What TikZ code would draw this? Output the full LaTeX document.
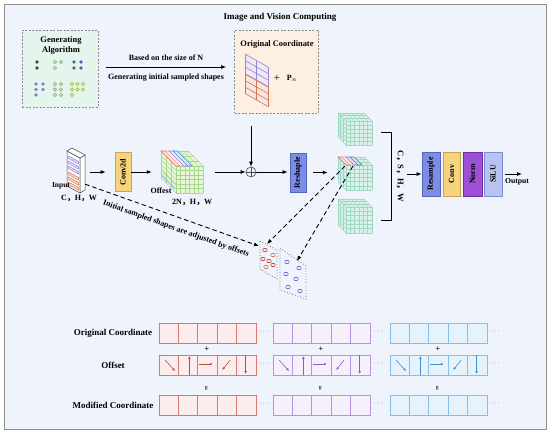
\documentclass[tikz,border=0pt]{standalone}
\usepackage{fontspec}
\setmainfont{Liberation Serif}
\newfontfamily\cjk{Noto Sans CJK SC}
\usetikzlibrary{arrows.meta,calc}
\definecolor{bg}{HTML}{EEF3FC}
\definecolor{framec}{HTML}{8E8E8E}
\definecolor{genf}{HTML}{E5F4EC}
\definecolor{origf}{HTML}{FDF0E2}
\definecolor{dboxc}{HTML}{8A8A8A}
\definecolor{convf}{HTML}{F6D47E}
\definecolor{convd}{HTML}{C9A24B}
\definecolor{reshf}{HTML}{7D8DE4}
\definecolor{reshd}{HTML}{5564C0}
\definecolor{normf}{HTML}{9B50D6}
\definecolor{normd}{HTML}{6A2EA2}
\definecolor{siluf}{HTML}{B8C3F4}
\definecolor{silud}{HTML}{7C8BD4}
\definecolor{offf}{HTML}{E9F6DC}
\definecolor{offl}{HTML}{A7D98C}
\definecolor{tealf}{HTML}{DBF2EA}
\definecolor{teall}{HTML}{9ED8C4}
\definecolor{redc}{HTML}{D87A70}
\definecolor{redf}{HTML}{FBEDEE}
\definecolor{reda}{HTML}{C8483E}
\definecolor{purc}{HTML}{B891E3}
\definecolor{purf}{HTML}{F6F0FC}
\definecolor{pura}{HTML}{8B5BD6}
\definecolor{bluc}{HTML}{86BEEA}
\definecolor{bluf}{HTML}{E6F3FC}
\definecolor{blua}{HTML}{3F8FD8}
\definecolor{gpur}{HTML}{9A85D0}
\definecolor{gora}{HTML}{D0754E}
\definecolor{dbrown}{HTML}{5A4535}
\definecolor{dgreen}{HTML}{8FAF7A}
\definecolor{dpurple}{HTML}{5E5EB5}
\definecolor{dblue}{HTML}{7A86CC}
\definecolor{dyel}{HTML}{A8C040}
\newcommand\gcube[7]{%
  \fill[#6] (#1,#2) -- ({#1-#5},{#2-#5}) -- ({#1+#3-#5},{#2-#5}) -- ({#1+#3},#2) -- ({#1+#3},{#2+#4}) -- (#1,{#2+#4}) -- ({#1-#5},{#2+#4-#5}) -- ({#1-#5},{#2-#5}) -- cycle;
  \foreach \k in {0,...,6}{
    \draw[#7,line width=0.45] ({#1+\k*#3/6},#2) -- ++(0,#4);
    \draw[#7,line width=0.45] (#1,{#2+\k*#4/6}) -- ++(#3,0);
    \draw[#7,line width=0.45] ({#1+\k*#3/6},#2) -- ++(-#5,-#5);
    \draw[#7,line width=0.45] (#1,{#2+\k*#4/6}) -- ++(-#5,-#5);
  }
  \foreach \m in {1,2,3}{
    \draw[#7,line width=0.45] ({#1-\m*#5/3},{#2-\m*#5/3}) -- ++(#3,0);
    \draw[#7,line width=0.45] ({#1-\m*#5/3},{#2-\m*#5/3}) -- ++(0,#4);
  }
}
\newcommand\pgrid[3]{% origin x,y, colour
  \fill[#3!18] (#1,#2) -- ({#1+23},{#2+13}) -- ({#1+23},{#2+32.5}) -- (#1,{#2+19.5}) -- cycle;
  \foreach \i in {0,1,2}{ \draw[#3,line width=0.6] ({#1+\i*11.5},{#2+\i*6.5}) -- ++(0,19.5); }
  \foreach \j in {0,1,2,3}{ \draw[#3,line width=0.6] (#1,{#2+\j*6.5}) -- ++(23,13); }
}
\begin{document}
\begin{tikzpicture}[x=1pt,y=-1pt,
  arr/.style={-{Latex[length=5pt,width=4pt]},line width=0.9pt,black},
  darr/.style={-{Latex[length=5pt,width=4pt]},line width=0.9pt,black,dash pattern=on 4.5pt off 3pt},
  sarr/.style={-{Latex[length=2.8pt,width=2.6pt]},line width=0.6pt},
  dbox/.style={draw=dboxc,line width=0.7pt,dash pattern=on 2pt off 1.5pt,inner sep=0},
  vbox/.style={draw,line width=0.7pt,inner sep=0},
  lab/.style={font=\fontsize{9}{11}\selectfont\bfseries},
  sml/.style={font=\fontsize{8}{9.6}\selectfont\bfseries},
  vtxt/.style={rotate=90,font=\fontsize{8}{9}\selectfont\bfseries}]
\useasboundingbox (0,0) rectangle (550,434);
\fill[white] (0,0) rectangle (550,434);
\draw[framec,fill=bg,line width=0.8pt] (4,4) rectangle (546,429);
\node[font=\fontsize{9}{11}\selectfont\bfseries] (title) at (280,17) {Image and Vision Computing};

% generating algorithm
\node[dbox,fill=genf,minimum width=76,minimum height=77] (gen) at (60,68.5) {};
\node[font=\fontsize{8.5}{10}\selectfont\bfseries,align=center] (gentxt) at (61,45) {Generating\\Algorithm};
\foreach \x/\y in {37/62,37/68}{\fill[dbrown] (\x,\y) circle (1.9);}
\foreach \x/\y in {74/62,81/62,74/68,81/68}{\fill[dpurple] (\x,\y) circle (1.9);}
\foreach \x/\y in {36/84,43/84,36/89.5,43/89.5,36/95}{\fill[dblue] (\x,\y) circle (1.9);}
\foreach \x/\y in {55/62,61/62,55/68,55/84,61/84,55/89.5,61/89.5,55/95,61/95}{\draw[dgreen,line width=0.7] (\x,\y) circle (1.6);}
\foreach \x/\y in {72/84,77.5/84,83/84,72/89.5,77.5/89.5,83/89.5,72/95}{\draw[dyel,line width=0.7] (\x,\y) circle (1.6);}

% arrow to original coordinate
\coordinate (a1) at (106,67);
\node[dbox,fill=origf,minimum width=84,minimum height=83] (orig) at (276.5,71.5) {};
\draw[arr,shorten >=8] (a1) -- (a1 -| orig.west);
\node[sml] (t1) at (166,58) {Based on the size of N};
\node[sml] (t2) at (166,78) {Generating initial sampled shapes};
\node[font=\fontsize{8.4}{10}\selectfont\bfseries] (origt) at (277,45) {Original Coordinate};
\pgrid{245}{54}{gpur}
\pgrid{245}{74}{gora}
\node[font=\fontsize{11}{12}\selectfont] (plus) at (277,78) {+};
\node[sml] (pn) at (292,78) {P$_n$};

% input slab
\node[inner sep=0,minimum width=18,minimum height=45] (inp) at (76,170.5) {};
\draw[black!75,fill=white,line width=0.5] (67,151) -- (80,158) -- (80,193) -- (67,186) -- cycle;
\draw[black!75,fill=white,line width=0.5] (80,158) -- (85,155) -- (85,190) -- (80,193) -- cycle;
\draw[black!75,fill=white,line width=0.5] (67,151) -- (72,148) -- (85,155) -- (80,158) -- cycle;
\foreach \k in {0,1,2}{\draw[gpur,fill=gpur!30,line width=0.5] (68.5,{156+\k*5}) -- (78.5,{161.5+\k*5}) -- (78.5,{164+\k*5}) -- (68.5,{158.5+\k*5}) -- cycle;}
\foreach \k in {3,4,5}{\draw[gora,fill=gora!25,line width=0.5] (68.5,{157+\k*5}) -- (78.5,{162.5+\k*5}) -- (78.5,{165+\k*5}) -- (68.5,{159.5+\k*5}) -- cycle;}
\node[font=\fontsize{7.5}{9}\selectfont\bfseries] (inpl) at (61,186) {Input};
\node[sml] (inpd) at (79,198) {C{\cjk ，}H{\cjk ，}W};

% conv2d
\node[vbox,draw=convd,fill=convf,minimum width=16,minimum height=39] (conv) at (123,172) {};
\node[vtxt] at (conv) {Conv2d};
\draw[arr,shorten <=5,shorten >=9] (inp.east |- conv.west) -- (conv.west);

% offset cube
\node[inner sep=0,minimum width=42,minimum height=42] (off) at (182,172) {};
\gcube{176}{166}{27}{27}{15}{offf}{offl}
\foreach \i/\c in {0/gora,1/pink!80!red,2/gpur,3/blua}{
  \draw[\c,fill=\c!15,line width=0.6] ({176+\i*4},166) -- ({180+\i*4},166) -- ({165+\i*4},151) -- ({161+\i*4},151) -- cycle;}
\draw[blua!70,line width=0.6] (162,176) -- (175,189);
\draw[pink!80!red,line width=0.6] (163,172) -- (176,185);
\node[sml] (offl1) at (161,191) {Offest};
\node[sml] (offl2) at (192,202) {2N{\cjk ，}H{\cjk ，}W};
\draw[arr,shorten >=9] (conv.east) -- (off.west);

% sum
\node[circle,draw=black!70,minimum size=10,inner sep=0,line width=0.6] (sum) at (251,172) {};
\draw[black!70,line width=0.6] (sum.north) -- (sum.south) (sum.west) -- (sum.east);
\draw[arr,shorten <=12] (off.east) -- (sum.west);
\draw[arr,shorten <=13] (orig.south -| sum) -- (sum.north);

% reshape
\node[vbox,draw=reshd,fill=reshf,minimum width=16,minimum height=39] (reshape) at (298,172.5) {};
\node[vtxt] at (reshape) {Reshaple};
\draw[arr,shorten >=2] (sum.east) -- (sum.east -| reshape.west);

% cubes
\node[inner sep=0,minimum width=34,minimum height=32] (cubeT) at (355,129) {};
\node[inner sep=0,minimum width=34,minimum height=33] (cubeM) at (355,173.5) {};
\node[inner sep=0,minimum width=34,minimum height=34] (cubeB) at (355,216) {};
\gcube{346}{121}{26}{24}{8}{tealf}{teall}
\gcube{346}{165}{26}{25}{8}{tealf}{teall}
\gcube{346}{207}{26}{26}{8}{tealf}{teall}
\foreach \i/\c in {0/gora,1/pink!80!red,2/gpur,3/blua}{
  \draw[\c,fill=\c!25,line width=0.6] ({346+\i*4},165) -- ({350+\i*4},165) -- ({342+\i*4},157) -- ({338+\i*4},157) -- cycle;}
\draw[arr,shorten <=7,shorten >=10] (reshape.east) -- (reshape.east -| cubeM.west);

% bracket
\draw[line width=0.9pt] (381,132) -| (391,220) -- (381,220);
\node[rotate=-90,font=\fontsize{8.5}{10}\selectfont\bfseries] (cshw) at (400,176) {C{\cjk ，}S{\cjk ，}H{\cjk ，}W};
\coordinate (brk) at (407,174);

% right blocks
\node[vbox,draw=reshd,fill=reshf,minimum width=18,minimum height=44] (resample) at (431,174) {};
\node[vbox,draw=convd,fill=convf,minimum width=17,minimum height=44] (conv2) at (451.5,174) {};
\node[vbox,draw=normd,fill=normf,minimum width=19,minimum height=44] (norm) at (472.5,174) {};
\node[vbox,draw=silud,fill=siluf,minimum width=18,minimum height=44] (silu) at (493,174) {};
\node[vtxt] at (resample) {Resample};
\node[vtxt] at (conv2) {Conv};
\node[vtxt] at (norm) {Norm};
\node[vtxt] at (silu) {SiLU};
\draw[arr] (brk) -- (resample.west);
\coordinate (outp) at (522,174);
\draw[arr,shorten <=3] (silu.east) -- (outp);
\node[font=\fontsize{7.7}{9}\selectfont\bfseries] (outl) at (517,182) {Output};

% panels
\draw[black!55,dotted,line width=0.8] (260,241) -- (277,250) -- (277,279) -- (260,269) -- cycle;
\draw[black!55,dotted,line width=0.8] (280,248) -- (306,266) -- (306,299) -- (280,290) -- cycle;
\foreach \x/\y/\c in {265/250/reda,273/255/gora,263/259/reda,269/261/reda,266/267/gora,273/265/reda}{
  \draw[\c,line width=0.6,rounded corners=0.8] (\x-2,\y-1.5) rectangle (\x+2,\y+1.5);}
\foreach \x/\y in {287/262,299/268,286/274,296/279,288/287,300/291}{
  \draw[pura,line width=0.6,rounded corners=0.8] (\x-2,\y-1.5) rectangle (\x+2,\y+1.5);}
\coordinate (p1) at (259,246);
\coordinate (p2) at (297,261);
\coordinate (s1) at (345,166);
\coordinate (s2) at (353,166);
\coordinate (p1b) at (267,244);
\draw[darr] ($(inp.south east)+(0,-9)$) -- (p1);
\draw[darr] (s1) -- (p1b);
\draw[darr] (s2) -- (p2);
\node[rotate=-19.7,font=\fontsize{8}{9}\selectfont\bfseries] (adj) at (176,229) {Initial sampled shapes are adjusted by offsets};

% bottom table
\node[lab] (lo) at (113,333) {Original Coordinate};
\node[lab] (lf) at (113,365) {Offset};
\node[lab] (lm) at (113,405) {Modified Coordinate};
\foreach \gx/\col/\fil/\ac in {159/redc/redf/reda,273/purc/purf/pura,390/bluc/bluf/blua}{
  \foreach \r in {323,355,395}{
    \foreach \i in {0,...,4}{
      \draw[draw=\col,fill=\fil,line width=0.7] ({\gx+\i*19.4},\r) rectangle ++(19.4,20);
    }
    \node[text=black!60,font=\fontsize{8}{9}\selectfont] at ({\gx+105},{\r+9}) {$\cdots$};
  }
  \node[font=\fontsize{8}{9}\selectfont\bfseries] at ({\gx+48},349) {+};
  \node[rotate=90,font=\fontsize{8}{9}\selectfont\bfseries] at ({\gx+48},388) {=};
  \draw[sarr,\ac] ({\gx+6},360) -- ({\gx+16},371);
  \draw[sarr,\ac] ({\gx+19.4+11},375) -- ({\gx+19.4+11},356);
  \draw[sarr,\ac] ({\gx+38.8+1},364) -- ({\gx+38.8+15},364);
  \draw[sarr,\ac] ({\gx+58.2+13},360) -- ({\gx+58.2+5},370);
  \draw[sarr,\ac] ({\gx+77.6+9},355) -- ({\gx+77.6+9},374);
}
\end{tikzpicture}
\end{document}
